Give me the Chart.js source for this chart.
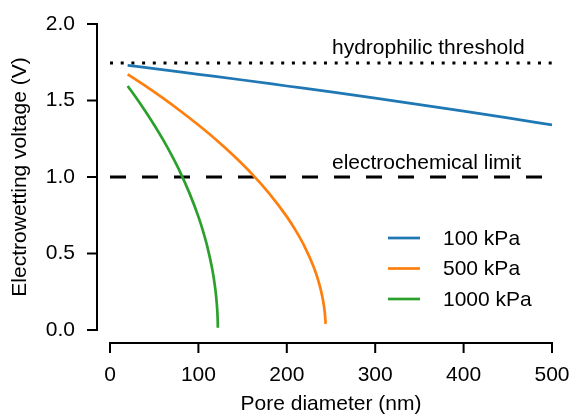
<!DOCTYPE html>
<html>
<head>
<meta charset="utf-8">
<script src="https://cdn.jsdelivr.net/npm/chart.js@4"></script>
<style>
  html, body { margin: 0; padding: 0; background: #fff; }
  canvas { display: block; }
</style>
</head>
<body>
<canvas id="ewChart" width="571" height="415"></canvas>
<script>
// pore diameter (nm) / electrowetting voltage (V) for each pressure
const pressureLabels = ['100 kPa', '500 kPa', '1000 kPa'];
const seriesColors = ['#1f77b4', '#ff7f0e', '#2ca02c'];

const diameter100 = [20, 50, 100, 150, 200, 250, 300, 350, 400, 450, 500];
const voltage100 = [1.730, 1.708, 1.671, 1.634, 1.595, 1.556, 1.515, 1.473, 1.430, 1.386, 1.340];

const diameter500 = [20, 40, 60, 80, 100, 120, 140, 160, 180, 200, 210, 220, 230, 236, 240, 242, 243, 243.7, 243.9];
const voltage500 = [1.671, 1.595, 1.515, 1.430, 1.340, 1.244, 1.139, 1.024, 0.893, 0.741, 0.651, 0.547, 0.418, 0.316, 0.223, 0.158, 0.112, 0.060, 0.040];

const diameter1000 = [20, 30, 40, 50, 60, 70, 80, 90, 100, 105, 110, 116, 119, 120, 121, 121.5, 121.9, 122.0];
const voltage1000 = [1.595, 1.515, 1.430, 1.340, 1.244, 1.139, 1.024, 0.893, 0.741, 0.651, 0.547, 0.387, 0.274, 0.223, 0.158, 0.112, 0.050, 0.015];

const referenceSpan = [0, 500];
const hydrophilicThreshold = 1.745;
const electrochemicalLimit = 1.0;

const xTicks = [0, 100, 200, 300, 400, 500];
const yTicks = [0.0, 0.5, 1.0, 1.5, 2.0];

const FONT = 'Liberation Sans, Arial, sans-serif';
const FONT_SIZE = 21;
Chart.defaults.color = '#000';
Chart.defaults.font.family = FONT;
Chart.defaults.font.size = FONT_SIZE;

function toPoints(xs, ys) {
  return xs.map((x, i) => ({ x: x, y: ys[i] }));
}

const curves = [
  toPoints(diameter100, voltage100),
  toPoints(diameter500, voltage500),
  toPoints(diameter1000, voltage1000)
];

const datasets = curves.map((pts, i) => ({
  label: pressureLabels[i],
  data: pts,
  borderColor: seriesColors[i],
  borderWidth: 2.7,
  pointRadius: 0,
  cubicInterpolationMode: 'monotone',
  fill: false
}));

datasets.push({
  label: 'hydrophilic threshold',
  data: referenceSpan.map(x => ({ x: x, y: hydrophilicThreshold })),
  borderColor: '#000',
  borderWidth: 3,
  borderDash: [3, 7.7],
  pointRadius: 0
});
datasets.push({
  label: 'electrochemical limit',
  data: referenceSpan.map(x => ({ x: x, y: electrochemicalLimit })),
  borderColor: '#000',
  borderWidth: 3,
  borderDash: [16, 16],
  pointRadius: 0
});

// keep tick padding from shrinking the plot area
function noScalePadding(scale) {
  scale.paddingLeft = 0;
  scale.paddingRight = 0;
  scale.paddingTop = 0;
  scale.paddingBottom = 0;
}

// detached spines, outward tick marks, inline legend and line captions
const decorations = {
  id: 'decorations',
  afterDraw(chart) {
    const { ctx, chartArea, scales } = chart;
    const x = scales.x, y = scales.y;
    const gap = 13, tick = 10;
    const yAxisX = chartArea.left - gap;
    const xAxisY = chartArea.bottom + gap;

    ctx.save();
    ctx.strokeStyle = '#000';
    ctx.lineWidth = 2;
    ctx.lineCap = 'butt';

    ctx.beginPath();
    ctx.moveTo(yAxisX, y.getPixelForValue(yTicks[0]) + 1);
    ctx.lineTo(yAxisX, y.getPixelForValue(yTicks[yTicks.length - 1]) - 1);
    yTicks.forEach(v => {
      const py = y.getPixelForValue(v);
      ctx.moveTo(yAxisX, py);
      ctx.lineTo(yAxisX - tick, py);
    });
    ctx.moveTo(x.getPixelForValue(xTicks[0]) - 1, xAxisY);
    ctx.lineTo(x.getPixelForValue(xTicks[xTicks.length - 1]) + 1, xAxisY);
    xTicks.forEach(v => {
      const px = x.getPixelForValue(v);
      ctx.moveTo(px, xAxisY);
      ctx.lineTo(px, xAxisY + tick);
    });
    ctx.stroke();

    ctx.font = FONT_SIZE + 'px ' + FONT;
    ctx.fillStyle = '#000';
    ctx.textAlign = 'left';
    ctx.textBaseline = 'alphabetic';
    ctx.fillText('hydrophilic threshold', 332, y.getPixelForValue(hydrophilicThreshold) - 9);
    ctx.fillText('electrochemical limit', 332, y.getPixelForValue(electrochemicalLimit) - 8);

    const legendX = 388, legendY = 238, rowGap = 30.5;
    ctx.textBaseline = 'middle';
    pressureLabels.forEach((label, i) => {
      const ly = legendY + i * rowGap;
      ctx.strokeStyle = seriesColors[i];
      ctx.lineWidth = 2.7;
      ctx.beginPath();
      ctx.moveTo(legendX, ly);
      ctx.lineTo(legendX + 32, ly);
      ctx.stroke();
      ctx.fillText(label, legendX + 55, ly + 1);
    });
    ctx.restore();
  }
};

new Chart(document.getElementById('ewChart'), {
  type: 'line',
  data: { datasets: datasets },
  plugins: [decorations],
  options: {
    responsive: false,
    animation: false,
    devicePixelRatio: 1,
    layout: { padding: { top: 24, right: 19, left: 0, bottom: 0 } },
    plugins: {
      legend: { display: false },
      tooltip: { enabled: false }
    },
    scales: {
      x: {
        type: 'linear',
        min: 0,
        max: 500,
        afterFit(scale) { scale.height = 85; noScalePadding(scale); },
        afterBuildTicks(scale) { scale.ticks = xTicks.map(v => ({ value: v })); },
        grid: { display: false, drawTicks: false },
        border: { display: false },
        ticks: { padding: 33, maxRotation: 0 },
        title: {
          display: true,
          text: 'Pore diameter (nm)',
          font: { size: FONT_SIZE, lineHeight: 1 },
          padding: { top: 0, bottom: 0 }
        }
      },
      y: {
        type: 'linear',
        min: 0,
        max: 2,
        afterFit(scale) { scale.width = 110; noScalePadding(scale); },
        afterBuildTicks(scale) { scale.ticks = yTicks.map(v => ({ value: v })); },
        grid: { display: false, drawTicks: false },
        border: { display: false },
        ticks: {
          padding: 35,
          callback: v => Number(v).toFixed(1)
        },
        title: {
          display: true,
          text: 'Electrowetting voltage (V)',
          font: { size: FONT_SIZE, lineHeight: 1 },
          padding: { top: 10, bottom: 0 }
        }
      }
    }
  }
});
</script>
</body>
</html>
